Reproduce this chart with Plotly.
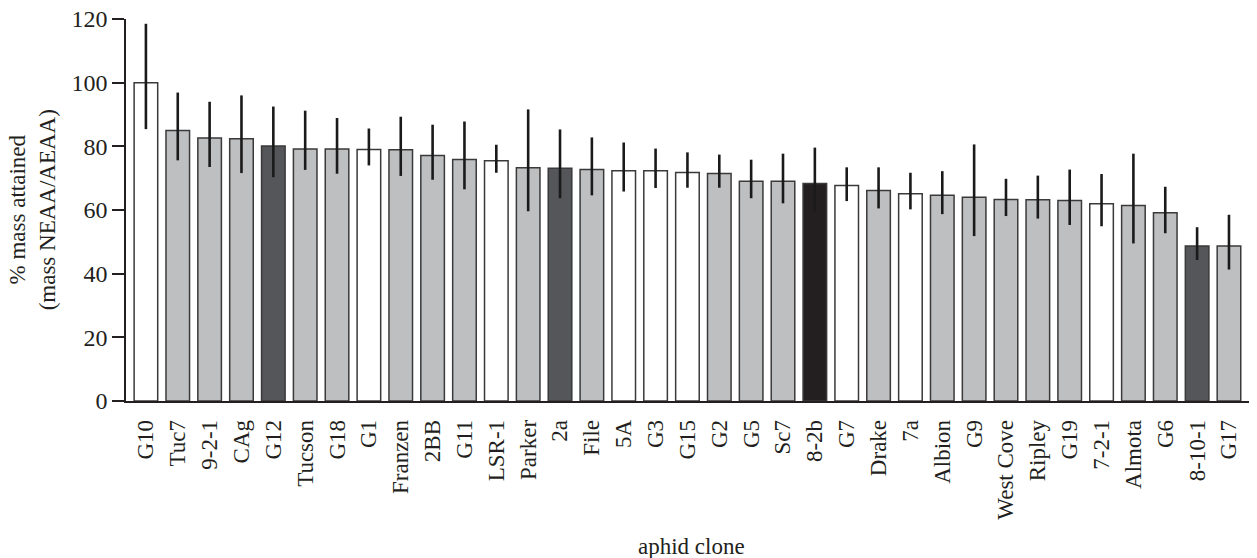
import plotly.graph_objects as go

clones = ["G10", "Tuc7", "9-2-1", "CAg", "G12", "Tucson", "G18", "G1", "Franzen", "2BB",
          "G11", "LSR-1", "Parker", "2a", "File", "5A", "G3", "G15", "G2", "G5",
          "Sc7", "8-2b", "G7", "Drake", "7a", "Albion", "G9", "West Cove", "Ripley", "G19",
          "7-2-1", "Almota", "G6", "8-10-1", "G17"]
mass_pct = [100.0, 85.0, 82.6, 82.4, 80.1, 79.2, 79.2, 79.0, 78.9, 77.1,
            75.9, 75.5, 73.3, 73.1, 72.7, 72.3, 72.3, 71.8, 71.5, 69.0,
            69.0, 68.3, 67.7, 66.1, 65.1, 64.6, 64.0, 63.3, 63.2, 63.0,
            62.0, 61.4, 59.1, 48.7, 48.7]
err_plus = [18.5, 11.9, 11.4, 13.6, 12.4, 12.0, 9.7, 6.6, 10.4, 9.7,
            11.9, 5.0, 18.3, 12.2, 10.1, 8.9, 7.0, 6.3, 5.9, 6.8,
            8.7, 11.3, 5.7, 7.3, 6.6, 7.6, 16.6, 6.5, 7.6, 9.7,
            9.3, 16.3, 8.2, 5.9, 9.8]
err_minus = [14.6, 9.4, 9.1, 10.8, 9.8, 6.6, 7.8, 5.0, 8.2, 7.6,
             9.4, 3.8, 13.7, 9.4, 8.1, 6.5, 5.4, 4.8, 4.5, 5.3,
             6.9, 8.8, 4.9, 5.6, 4.9, 5.9, 12.2, 5.2, 5.9, 7.7,
             7.1, 11.9, 6.4, 4.4, 7.4]
group = ["white", "gray", "gray", "gray", "dark", "gray", "gray", "white", "gray", "gray",
         "gray", "white", "gray", "dark", "gray", "white", "white", "white", "gray", "gray",
         "gray", "black", "white", "gray", "white", "gray", "gray", "gray", "gray", "gray",
         "white", "gray", "gray", "dark", "gray"]
y_ticks = [0, 20, 40, 60, 80, 100, 120]

palette = {"white": "#ffffff", "gray": "#bebfc1", "dark": "#55565a", "black": "#231f20"}
ink = "#231f20"
font_family = "Liberation Serif"

# page body has an 8px default margin, so the figure is drawn 8px smaller/offset
W, H, OFF = 1257, 558, 8
plot_left, plot_top, plot_bottom = 126, 19, 401

fig = go.Figure()
fig.add_trace(go.Bar(
    x=clones, y=mass_pct,
    width=0.74,
    marker=dict(color=[palette[g] for g in group],
                line=dict(color="#3a3a3a", width=1.5)),
    error_y=dict(type="data", symmetric=False, array=err_plus, arrayminus=err_minus,
                 color="#1a1a1a", thickness=2.6, width=0),
    showlegend=False,
))

plot_w = W - plot_left
plot_h = plot_bottom - plot_top
fig.update_layout(
    width=W - OFF, height=H - OFF,
    margin=dict(l=plot_left - OFF, r=0, t=plot_top - OFF, b=H - plot_bottom),
    paper_bgcolor="white", plot_bgcolor="white",
    font=dict(family=font_family, size=23, color=ink),
    xaxis=dict(
        type="category", range=[-0.625, 34.88],
        showline=True, linecolor=ink, linewidth=1.5,
        ticks="", tickangle=-90, ticklabelstandoff=8,
        tickfont=dict(family=font_family, size=23, color=ink),
        showgrid=False, zeroline=False, automargin=False,
        ticklabeloverflow="allow",
    ),
    yaxis=dict(
        range=[0, 120], tickvals=y_ticks,
        showline=True, linecolor=ink, linewidth=1.5,
        ticks="outside", ticklen=12, tickwidth=1.5, tickcolor=ink,
        tickfont=dict(family=font_family, size=24, color=ink),
        showgrid=False, zeroline=False, automargin=False,
        ticklabeloverflow="allow",
    ),
    annotations=[
        dict(text="% mass attained<br>(mass NEAA/AEAA)", textangle=-90,
             xref="paper", yref="paper", x=(33 - plot_left) / (plot_w - OFF), y=0.5,
             xanchor="center", yanchor="middle", showarrow=False,
             font=dict(family=font_family, size=23, color=ink)),
        dict(text="aphid clone", xref="paper", yref="paper",
             x=0.5, y=(plot_bottom - 546) / plot_h, xanchor="center", yanchor="middle",
             showarrow=False, font=dict(family=font_family, size=23, color=ink)),
    ],
)

fig.write_html("out.html")
